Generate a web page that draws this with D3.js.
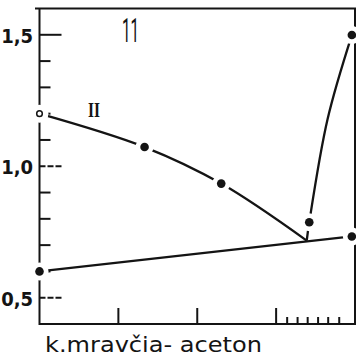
<!DOCTYPE html>
<html lang="sk">
<head>
<meta charset="UTF-8">
<title>11</title>
<script src="https://cdn.jsdelivr.net/npm/d3@7/dist/d3.min.js"></script>
<style>
  body { margin: 0; background: #fff; }
  svg { display: block; }
</style>
</head>
<body>
<script>
    // osi
    var yMajor = [0.5, 1.0, 1.5];
    var yLabels = ["0,5", "1,0", "1,5"];
    var yMinor = [0.6, 0.7, 0.8, 0.9, 1.1, 1.2, 1.3, 1.4];
    var xMajor = [0.25, 0.5, 0.75];
    var xMinor = [0.785, 0.818, 0.85, 0.883, 0.915, 0.95];

    // krivky (odcitane z obrazka)
    var curveII = [[0, 1.2], [0.333, 1.073], [0.576, 0.934], [0.847, 0.717]];
    var branch = [[0.847, 0.717], [0.855, 0.787], [0.913, 1.179], [0.99, 1.499]];
    var lowerLine = [[0, 0.6], [0.99, 0.733]];

    // body
    var filledPts = [[0.333, 1.073], [0.576, 0.934], [0.855, 0.787], [0.99, 1.499], [0.99, 0.733], [0, 0.6]];
    var openPts = [[0, 1.2]];

    var width = 356, height = 359;
    var ink = "#141414";

    var svg = d3.select("body").append("svg")
        .attr("width", width)
        .attr("height", height);

    var x = d3.scaleLinear().domain([0, 1]).range([39.5, 355]);
    var y = d3.scaleLinear().domain([0.4, 1.6]).range([324, 8.5]);

    // ramik
    svg.append("path")
        .attr("d", "M35," + y(1.6) + "H" + x(1) + "V" + y(0.4) + "H" + x(0) + "V" + y(1.6))
        .attr("fill", "none")
        .attr("stroke", ink)
        .attr("stroke-width", 2);

    // y ciarky
    svg.selectAll(".ymin").data(yMinor).enter().append("line")
        .attr("x1", x(0)).attr("x2", x(0) + 11)
        .attr("y1", function (d) { return y(d); })
        .attr("y2", function (d) { return y(d); })
        .attr("stroke", ink).attr("stroke-width", 2);

    svg.selectAll(".ymaj").data(yMajor).enter().append("line")
        .attr("x1", x(0)).attr("x2", x(0) + 22)
        .attr("y1", function (d) { return y(d); })
        .attr("y2", function (d) { return y(d); })
        .attr("stroke", ink).attr("stroke-width", 2)
        .attr("stroke-dasharray", function (d) { return d === 1.5 ? null : "6,2"; });

    svg.selectAll(".ylab").data(yMajor).enter().append("text")
        .attr("x", 33)
        .attr("y", function (d) { return y(d) + 8; })
        .attr("text-anchor", "end")
        .attr("font-family", "DejaVu Sans Condensed, DejaVu Sans, sans-serif")
        .attr("font-weight", "bold")
        .attr("font-size", 20)
        .attr("fill", ink)
        .text(function (d, i) { return yLabels[i]; });

    // x ciarky
    svg.selectAll(".xmaj").data(xMajor).enter().append("line")
        .attr("x1", function (d) { return x(d); })
        .attr("x2", function (d) { return x(d); })
        .attr("y1", y(0.4)).attr("y2", y(0.4) - 16)
        .attr("stroke", ink).attr("stroke-width", 2);

    svg.selectAll(".xmin").data(xMinor).enter().append("line")
        .attr("x1", function (d) { return x(d); })
        .attr("x2", function (d) { return x(d); })
        .attr("y1", y(0.4)).attr("y2", y(0.4) - 7)
        .attr("stroke", ink).attr("stroke-width", 2);

    // ciary
    var line = d3.line()
        .x(function (d) { return x(d[0]); })
        .y(function (d) { return y(d[1]); })
        .curve(d3.curveCatmullRom);

    [curveII, branch, lowerLine].forEach(function (c) {
        svg.append("path")
            .attr("d", line(c))
            .attr("fill", "none")
            .attr("stroke", ink)
            .attr("stroke-width", 2.3);
    });

    // medzery okolo bodov
    svg.selectAll(".halo").data(filledPts.concat(openPts)).enter().append("circle")
        .attr("cx", function (d) { return x(d[0]); })
        .attr("cy", function (d) { return y(d[1]); })
        .attr("r", 9)
        .attr("fill", "#fff");

    svg.selectAll(".pt").data(filledPts).enter().append("circle")
        .attr("cx", function (d) { return x(d[0]); })
        .attr("cy", function (d) { return y(d[1]); })
        .attr("r", 4.3)
        .attr("fill", ink);

    svg.selectAll(".opt").data(openPts).enter().append("circle")
        .attr("cx", function (d) { return x(d[0]); })
        .attr("cy", function (d) { return y(d[1]); })
        .attr("r", 2.8)
        .attr("fill", "#fff")
        .attr("stroke", ink)
        .attr("stroke-width", 1.5);

    // popisy
    svg.append("text")
        .attr("x", 122).attr("y", 41.5)
        .attr("font-family", "Roboto, sans-serif")
        .attr("font-size", 34)
        .attr("textLength", 17)
        .attr("lengthAdjust", "spacingAndGlyphs")
        .attr("fill", ink)
        .text("11");

    svg.append("text")
        .attr("x", 88).attr("y", 117)
        .attr("font-family", "Liberation Serif, serif")
        .attr("font-weight", "bold")
        .attr("font-size", 21)
        .attr("textLength", 12)
        .attr("lengthAdjust", "spacingAndGlyphs")
        .attr("fill", ink)
        .text("II");

    svg.append("text")
        .attr("x", 45).attr("y", 352)
        .attr("font-family", "DejaVu Sans, sans-serif")
        .attr("font-size", 21)
        .attr("textLength", 217)
        .attr("lengthAdjust", "spacingAndGlyphs")
        .attr("fill", ink)
        .text("k.mravčia- aceton");
</script>
</body>
</html>
